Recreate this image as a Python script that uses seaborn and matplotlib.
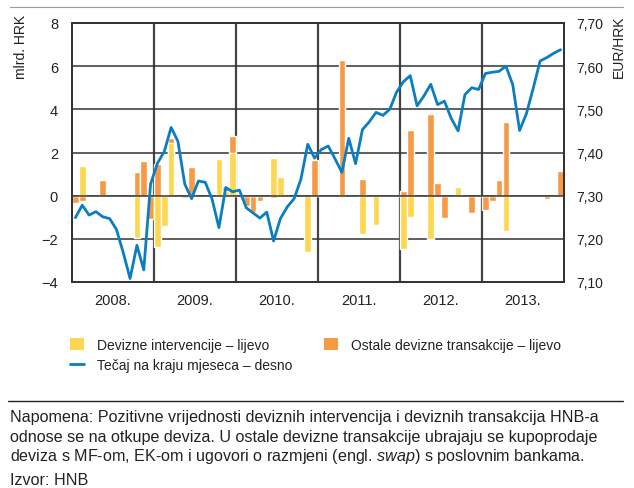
import matplotlib
matplotlib.use("Agg")
import matplotlib.pyplot as plt
import seaborn as sns
from matplotlib.patches import Patch
from matplotlib.lines import Line2D

# ---------------- data ----------------
years = ["2008.", "2009.", "2010.", "2011.", "2012.", "2013."]
month_index = list(range(72))

# Devizne intervencije (mlrd. HRK), monthly 2008-2013
interventions = [
    0, 1.37, 0, 0, 0, 0, 0, 0, 0, -1.97, 0, 0,
    -2.40, -1.40, 2.45, 0, 0, 0, 0, 0, 0, 1.69, 0.20, 2.00,
    0, 0, 0, 0, 0, 1.74, 0.88, 0, 0, 0, -2.60, 0,
    0, 0, 0, 0, 0, 0, -1.79, 0, -1.36, 0, 0, 0,
    -2.45, -0.98, 0, 0, -2.02, 0, 0, 0, 0.42, 0, 0, 0,
    0, 0, 0, -1.63, 0, 0, 0, 0, 0, 0, 0, 0,
]
# Ostale devizne transakcije (mlrd. HRK)
other = [
    -0.36, -0.24, 0, 0, 0.72, 0, 0, 0, 0, 1.10, 1.60, -1.06,
    1.46, 0.05, 2.68, 0, -0.13, 1.32, 0, 0, 0, -0.05, 0.40, 2.77,
    0, -0.47, -0.75, -0.24, 0, -0.12, 0.91, 0, 0, 0, 0, 1.65,
    0, 0, 0, 6.28, 0, 0, 0.77, 0, 0, 0, 0, 0,
    0.20, 3.04, 0, 0, 3.78, 0.61, -1.04, 0, 0.46, 0, -0.81, 0,
    -0.65, -0.24, 0.72, 3.42, 0, 0, 0, 0, 0, -0.15, 0, 1.15,
]
# Tečaj EUR/HRK na kraju mjeseca
rate = [
    7.249, 7.278, 7.255, 7.263, 7.251, 7.247, 7.222, 7.168, 7.108, 7.185, 7.128, 7.327,
    7.375, 7.402, 7.458, 7.426, 7.327, 7.293, 7.334, 7.331, 7.292, 7.226, 7.319, 7.309,
    7.313, 7.272, 7.260, 7.248, 7.262, 7.195, 7.247, 7.274, 7.293, 7.338, 7.419, 7.387,
    7.407, 7.415, 7.385, 7.354, 7.433, 7.374, 7.453, 7.471, 7.493, 7.486, 7.500, 7.540,
    7.564, 7.578, 7.508, 7.531, 7.558, 7.511, 7.519, 7.479, 7.450, 7.534, 7.550, 7.546,
    7.583, 7.586, 7.588, 7.600, 7.557, 7.451, 7.490, 7.549, 7.612, 7.620, 7.630, 7.638,
]

left_ticks = [-4, -2, 0, 2, 4, 6, 8]
left_tick_labels = ["\u22124", "\u22122", "0", "2", "4", "6", "8"]
right_ticks = [7.10, 7.20, 7.30, 7.40, 7.50, 7.60, 7.70]
right_tick_labels = ["7,10", "7,20", "7,30", "7,40", "7,50", "7,60", "7,70"]

legend_labels = ["Devizne intervencije \u2013 lijevo",
                 "Te\u010daj na kraju mjeseca \u2013 desno",
                 "Ostale devizne transakcije \u2013 lijevo"]
note_lines = [
    "Napomena: Pozitivne vrijednosti deviznih intervencija i deviznih transakcija HNB-a",
    "odnose se na otkupe deviza. U ostale devizne transakcije ubrajaju se kupoprodaje",
    r"deviza s MF-om, EK-om i ugovori o razmjeni (engl. $\mathit{swap}$) s poslovnim bankama.",
]
source = "Izvor: HNB"

# ---------------- style ----------------
YELLOW = "#FFD64F"
ORANGE = "#F79A46"
BLUE = "#0A7EC0"
GRID = "#333333"
TXT = "#222222"
FS = 10

sns.set_style("white")
plt.rcParams["font.family"] = ["Liberation Sans", "DejaVu Sans"]
plt.rcParams["mathtext.fontset"] = "custom"
plt.rcParams["mathtext.rm"] = "Liberation Sans"
plt.rcParams["mathtext.it"] = "Liberation Sans:italic"

W, H = 634, 489
fig = plt.figure(figsize=(W / 100, H / 100), dpi=100)
ax = fig.add_axes([72 / W, 1 - 283 / H, (564 - 72) / W, (283 - 24) / H])

sns.barplot(x=month_index, y=other, color=ORANGE, saturation=1, width=0.98,
            errorbar=None, ax=ax, zorder=2)
sns.barplot(x=month_index, y=interventions, color=YELLOW, saturation=1, width=0.98,
            errorbar=None, ax=ax, zorder=3)

ax.set_xlim(-0.5, 71.5)
ax.set_ylim(-4, 8)
ax.set_yticks(left_ticks)
ax.set_yticklabels(left_tick_labels)
ax.set_xticks([i * 12 + 5.5 for i in range(6)])
ax.set_xticklabels(years)
ax.set_xticks([i * 12 - 0.5 for i in range(1, 6)], minor=True)
ax.set_xlabel("")
ax.set_ylabel("")
ax.grid(False)
ax.grid(axis="y", which="major", color=GRID, lw=1.1, zorder=1)
ax.grid(axis="x", which="minor", color="#444444", lw=1.6, zorder=1)
ax.set_axisbelow(True)
ax.axhline(0, color=GRID, lw=1.1, zorder=4)
ax.tick_params(axis="both", which="both", length=0)
ax.tick_params(axis="y", pad=10, labelsize=FS + 0.5, labelcolor=TXT)
ax.tick_params(axis="x", pad=8, labelsize=FS + 0.5, labelcolor=TXT)
for s in ax.spines.values():
    s.set_color("#333333")
    s.set_linewidth(1.4)

ax2 = ax.twinx()
sns.lineplot(x=month_index, y=rate, color=BLUE, lw=2.0, ax=ax2, zorder=5)
ax2.set_ylim(7.10, 7.70)
ax2.set_yticks(right_ticks)
ax2.set_yticklabels(right_tick_labels)
ax2.set_ylabel("")
ax2.tick_params(axis="y", length=0, pad=9, labelsize=FS, labelcolor=TXT)
for s in ax2.spines.values():
    s.set_color("#333333")
    s.set_linewidth(1.4)

# axis titles
fig.text(21 / W, 1 - 15 / H, "mlrd. HRK", rotation=90, ha="center", va="top",
         fontsize=FS, color=TXT)
fig.text(618.5 / W, 1 - 15 / H, "EUR/HRK", rotation=90, ha="center", va="top",
         fontsize=FS, color=TXT)

# top rule
fig.add_artist(Line2D([10 / W, 623 / W], [1 - 8 / H, 1 - 8 / H], color="#999999", lw=0.8))

# legend
handles = [Patch(facecolor=YELLOW, edgecolor="none"),
           Line2D([], [], color=BLUE, lw=2.0),
           Patch(facecolor=ORANGE, edgecolor="none")]
fig.legend(handles=handles, labels=legend_labels, ncol=2, loc="upper left",
           bbox_to_anchor=(70 / W, 1 - 339 / H), frameon=False, fontsize=FS,
           handlelength=1.0, handleheight=0.95, handletextpad=0.95,
           columnspacing=2.3, labelspacing=0.45, borderpad=0, borderaxespad=0,
           labelcolor=TXT)

# bottom rule + note
fig.add_artist(Line2D([8 / W, 623 / W], [1 - 402 / H, 1 - 402 / H], color="#222222", lw=1.0))
for i, line in enumerate(note_lines):
    fig.text(10 / W, 1 - (418 + i * 19.5) / H, line, ha="left", va="center",
             fontsize=11.6, color=TXT)
fig.text(10 / W, 1 - 481 / H, source, ha="left", va="center",
         fontsize=11.6, color=TXT)

fig.savefig("out.png", dpi=100)
